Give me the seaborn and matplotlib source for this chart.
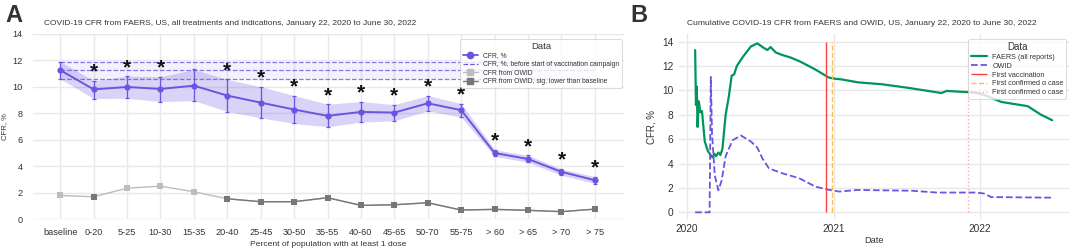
import numpy as np
import pandas as pd
import seaborn as sns
import matplotlib.pyplot as plt
import matplotlib.dates as mdates
from matplotlib.lines import Line2D

# ---- Panel A data ----
groups = ['baseline', '0-20', '5-25', '10-30', '15-35', '20-40', '25-45', '30-50',
          '35-55', '40-60', '45-65', '50-70', '55-75', '> 60', '> 65', '> 70', '> 75']
cfr = [11.25, 9.8, 9.98, 9.83, 10.08, 9.33, 8.8, 8.28, 7.8, 8.1, 8.05, 8.75, 8.23,
       5.0, 4.55, 3.58, 2.95]
cfr_lo = [10.6, 9.1, 9.13, 8.88, 8.95, 8.13, 7.65, 7.23, 6.98, 7.33, 7.43, 8.18, 7.7,
          4.75, 4.3, 3.32, 2.7]
cfr_hi = [11.9, 10.45, 10.8, 10.75, 11.3, 10.55, 10.0, 9.33, 8.68, 8.88, 8.65, 9.33, 8.73,
          5.25, 4.82, 3.8, 3.22]
sig_cfr = [False, True, True, True, False, True, True, True, True, True, True, True, True,
           True, True, True, True]
owid = [1.8, 1.7, 2.35, 2.5, 2.08, 1.55, 1.33, 1.33, 1.63, 1.05, 1.1, 1.25, 0.7,
        0.75, 0.68, 0.58, 0.77]
sig_owid = [False, True, False, False, False, True, True, True, True, True, True, True, True,
            True, True, True, True]

# ---- Panel B data ----
faers_dates = ['2020-01-22', '2020-01-24', '2020-01-26', '2020-01-28', '2020-01-31', '2020-02-04',
               '2020-02-08', '2020-02-15', '2020-02-23', '2020-03-05', '2020-03-10', '2020-03-14',
               '2020-03-20', '2020-03-25', '2020-03-30', '2020-04-07', '2020-04-15', '2020-04-22',
               '2020-04-28', '2020-05-05', '2020-05-19', '2020-06-09', '2020-06-25', '2020-07-10',
               '2020-07-20', '2020-07-28', '2020-08-10', '2020-08-26', '2020-09-15', '2020-10-07',
               '2020-10-25', '2020-11-17', '2020-12-20', '2021-01-05', '2021-01-20', '2021-03-04',
               '2021-05-01', '2021-07-07', '2021-08-15', '2021-09-27', '2021-10-10', '2021-12-19',
               '2022-01-13', '2022-02-23', '2022-04-30', '2022-06-02', '2022-06-30']
faers_vals = [13.3, 8.8, 10.3, 7.0, 9.1, 8.2, 8.3, 5.8, 5.0, 4.5, 4.8, 4.6, 4.9, 4.7, 5.2,
              8.0, 9.5, 11.2, 11.3, 12.0, 12.7, 13.6, 13.85, 13.5, 13.3, 13.55, 13.1, 12.9,
              12.7, 12.4, 12.1, 11.7, 11.05, 10.95, 10.9, 10.65, 10.5, 10.2, 10.0, 9.78, 9.95,
              9.82, 9.6, 9.05, 8.7, 8.0, 7.55]
owid_dates = ['2020-01-22', '2020-02-27', '2020-03-01', '2020-03-04', '2020-03-11', '2020-03-20',
              '2020-03-28', '2020-04-07', '2020-04-24', '2020-05-15', '2020-06-09', '2020-06-25',
              '2020-07-08', '2020-07-24', '2020-08-26', '2020-10-07', '2020-11-17', '2020-12-20',
              '2021-01-15', '2021-03-01', '2021-07-15', '2021-09-15', '2021-12-20', '2022-01-10',
              '2022-01-29', '2022-06-30']
owid_vals = [0.0, 0.0, 11.1, 6.5, 3.0, 1.8, 2.6, 4.6, 5.9, 6.3, 5.8, 5.3, 4.4, 3.6, 3.2, 2.8,
             2.1, 1.85, 1.7, 1.83, 1.77, 1.62, 1.62, 1.55, 1.25, 1.2]
event_dates = ['2020-12-14', '2020-12-29', '2021-12-01']
event_labels = ['First vaccination', 'First confirmed α case', 'First confirmed ο case']

purple = '#6a55e0'
light_gray = '#bdbdbd'
dark_gray = '#777777'
green = '#00955c'

sns.set_theme(style='whitegrid', rc={'grid.color': '#e8e8e8', 'axes.edgecolor': 'white',
                                     'text.color': '#333333', 'xtick.color': '#333333',
                                     'ytick.color': '#333333', 'axes.labelcolor': '#333333'})
plt.rcParams['font.family'] = ['Liberation Sans', 'DejaVu Sans']

fig = plt.figure(figsize=(10.72, 2.5), dpi=100)
axA = fig.add_axes([0.030, 0.12, 0.553, 0.748])
axB = fig.add_axes([0.632, 0.12, 0.366, 0.748])

# ---------- Panel A ----------
pos = np.arange(len(groups))
dfA = pd.DataFrame({'pos': pos, 'cfr': cfr, 'lo': cfr_lo, 'hi': cfr_hi, 'owid': owid,
                    'sig_owid': sig_owid, 'sig_cfr': sig_cfr})

base, base_lo, base_hi = cfr[0], cfr_lo[0], cfr_hi[0]
axA.fill_between([pos[0], pos[-1]], base_lo, base_hi, color=purple, alpha=0.08, lw=0)
axA.hlines([base_lo, base, base_hi], pos[0], pos[-1], color=purple, linestyles='--',
           lw=0.9, alpha=0.8)

axA.fill_between(dfA['pos'], dfA['lo'], dfA['hi'], color=purple, alpha=0.25, lw=0)
axA.errorbar(dfA['pos'], dfA['cfr'], yerr=[dfA['cfr'] - dfA['lo'], dfA['hi'] - dfA['cfr']],
             fmt='none', ecolor=purple, elinewidth=0.9, capsize=1.5, capthick=0.9)
sns.lineplot(data=dfA, x='pos', y='cfr', color=purple, marker='o', markersize=4.5,
             markeredgewidth=0, lw=1.4, sort=False, ax=axA)

sns.lineplot(data=dfA, x='pos', y='owid', color=light_gray, marker='s', markersize=4,
             markeredgewidth=0, lw=1.0, sort=False, ax=axA)
dark_line = dfA['owid'].where(dfA['sig_owid'] & (dfA['pos'] >= 5))
axA.plot(dfA['pos'], dark_line, color=dark_gray, lw=1.0)
sig_pts = dfA[dfA['sig_owid']]
sns.scatterplot(data=sig_pts, x='pos', y='owid', color=dark_gray, marker='s', s=16,
                linewidth=0, ax=axA, zorder=5)

for _, r in dfA[dfA['sig_cfr']].iterrows():
    axA.text(r['pos'], r['hi'] + 0.65, '*', ha='center', va='center', fontsize=15,
             fontweight='bold', color='#111111')

axA.set_xlim(-0.84, 16.9)
axA.set_ylim(-0.05, 14.05)
axA.set_xticks(pos)
axA.set_xticklabels(groups)
axA.set_yticks(range(0, 15, 2))
axA.tick_params(labelsize=6.6, length=0)
axA.tick_params(axis='x', pad=6)
axA.tick_params(axis='y', pad=7)
axA.set_xlabel('Percent of population with at least 1 dose', fontsize=6.1, labelpad=3)
axA.set_ylabel('CFR, %', fontsize=5.6, labelpad=3)
axA.set_title('COVID-19 CFR from FAERS, US, all treatments and indications, January 22, 2020 to June 30, 2022',
              loc='left', x=0.02, fontsize=6.05, pad=6)
handlesA = [
    Line2D([], [], color=purple, marker='o', markersize=4.5, lw=1.3),
    Line2D([], [], color=purple, ls='--', lw=0.9),
    Line2D([], [], color=light_gray, marker='s', markersize=4, lw=1.0),
    Line2D([], [], color=dark_gray, marker='s', markersize=4, lw=1.0),
]
labelsA = ['CFR, %', 'CFR, %, before start of vaccination campaign', 'CFR from OWID',
           'CFR from OWID, sig. lower than baseline']
legA = axA.legend(handlesA, labelsA, title='Data', loc='upper right', fontsize=4.9,
                  title_fontsize=6.8, frameon=True, borderpad=0.35, labelspacing=0.25,
                  handlelength=2.2, bbox_to_anchor=(1.0, 0.985), framealpha=0.8)
legA.get_frame().set_edgecolor('#cccccc')
legA.get_frame().set_linewidth(0.6)

fig.text(0.005, 0.985, 'A', fontsize=17, fontweight='bold', va='top', ha='left')

# ---------- Panel B ----------
dfF = pd.DataFrame({'date': pd.to_datetime(faers_dates), 'val': faers_vals})
dfO = pd.DataFrame({'date': pd.to_datetime(owid_dates), 'val': owid_vals})
sns.lineplot(data=dfF, x='date', y='val', color=green, lw=1.6, ax=axB, label='FAERS (all reports)')
sns.lineplot(data=dfO, x='date', y='val', color=purple, lw=1.3, ls='--', ax=axB, label='OWID')
ev = pd.to_datetime(event_dates)
axB.vlines(ev[0], 0, 14, color='#ff4040', lw=1.0, label=event_labels[0])
axB.vlines(ev[1], 0, 14, color='#ffc04d', lw=1.0, linestyles='--', label=event_labels[1])
axB.vlines(ev[2], 0, 14, color='#ff9fd0', lw=1.0, linestyles=':', label=event_labels[2])

axB.set_xlim(pd.Timestamp('2019-12-09'), pd.Timestamp('2022-08-13'))
axB.set_ylim(-0.63, 14.7)
axB.set_yticks(range(0, 15, 2))
axB.xaxis.set_major_locator(mdates.YearLocator())
axB.xaxis.set_major_formatter(mdates.DateFormatter('%Y'))
axB.tick_params(labelsize=7.3, pad=3, length=0)
axB.set_xlabel('Date', fontsize=6.6, labelpad=1)
axB.set_ylabel('CFR, %', fontsize=7, labelpad=4)
axB.set_title('Cumulative COVID-19 CFR from FAERS and OWID, US, January 22, 2020 to June 30, 2022',
              loc='left', x=0.025, fontsize=6.1, pad=6)
legB = axB.legend(title='Data', loc='upper right', fontsize=5.2, title_fontsize=7,
                  frameon=True, borderpad=0.35, labelspacing=0.25, handlelength=2.2,
                  bbox_to_anchor=(1.0, 0.985), framealpha=0.8)
legB.get_frame().set_edgecolor('#cccccc')
legB.get_frame().set_linewidth(0.6)

fig.text(0.588, 0.985, 'B', fontsize=17, fontweight='bold', va='top', ha='left')

fig.savefig('out.png', dpi=100)
